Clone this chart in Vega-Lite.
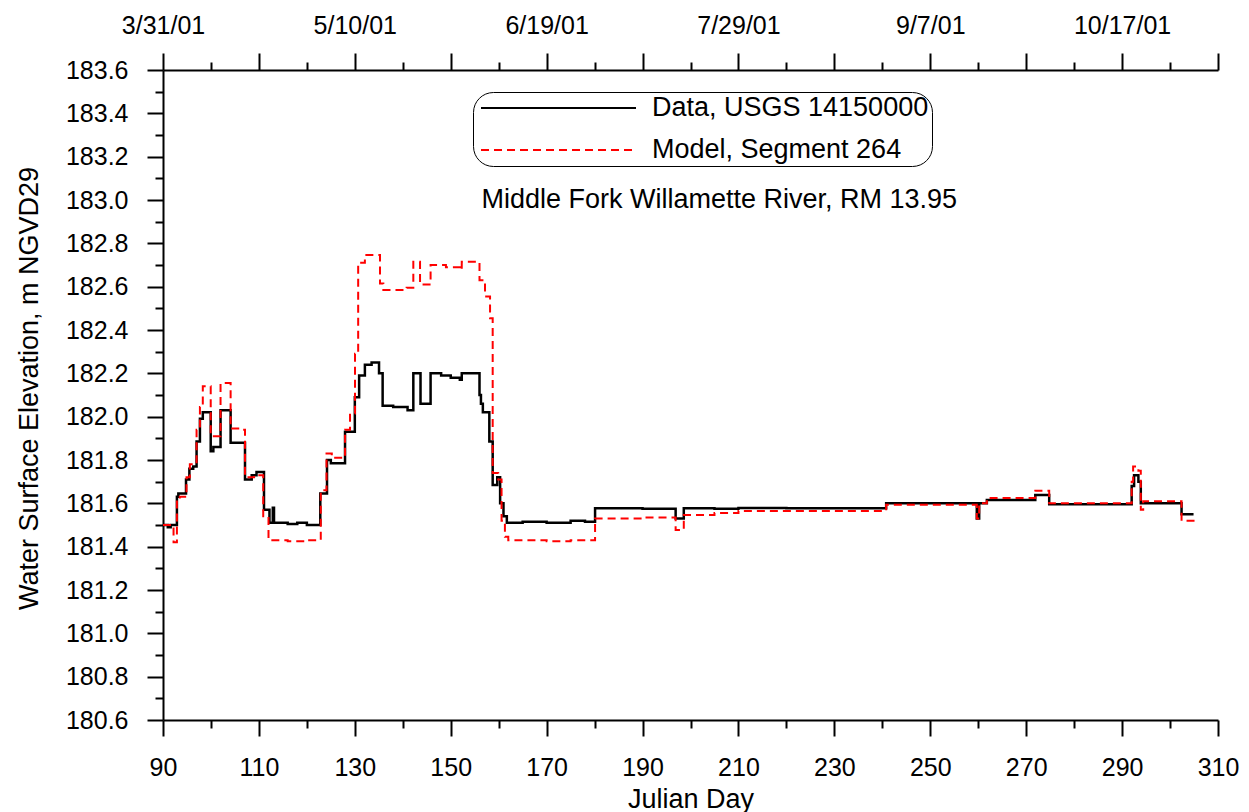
{
  "$schema": "https://vega.github.io/schema/vega-lite/v6.json",
  "width": 1055,
  "height": 650,
  "autosize": "none",
  "padding": {"left": 163, "top": 70, "right": 31, "bottom": 92},
  "background": "white",
  "config": {
    "view": {"stroke": null},
    "font": "Liberation Sans",
    "axis": {"grid": false, "domainColor": "black", "domainWidth": 2, "tickColor": "black", "tickWidth": 2, "labelColor": "black", "titleColor": "black", "labelFont": "Liberation Sans", "titleFont": "Liberation Sans", "titleFontWeight": "normal", "labelFontSize": 25, "titleFontSize": 27, "labelFlush": false, "labelOverlap": false}
  },
  "datasets": {
    "obs": [
      {"d": 90.0, "e": 181.50, "s": "Data, USGS 14150000"},
      {"d": 91.0, "e": 181.49, "s": "Data, USGS 14150000"},
      {"d": 91.6, "e": 181.50, "s": "Data, USGS 14150000"},
      {"d": 92.9, "e": 181.63, "s": "Data, USGS 14150000"},
      {"d": 93.2, "e": 181.645, "s": "Data, USGS 14150000"},
      {"d": 94.8, "e": 181.71, "s": "Data, USGS 14150000"},
      {"d": 95.5, "e": 181.76, "s": "Data, USGS 14150000"},
      {"d": 96.3, "e": 181.77, "s": "Data, USGS 14150000"},
      {"d": 97.0, "e": 181.885, "s": "Data, USGS 14150000"},
      {"d": 97.7, "e": 181.99, "s": "Data, USGS 14150000"},
      {"d": 98.3, "e": 182.02, "s": "Data, USGS 14150000"},
      {"d": 99.95, "e": 181.84, "s": "Data, USGS 14150000"},
      {"d": 100.5, "e": 181.86, "s": "Data, USGS 14150000"},
      {"d": 102.0, "e": 182.03, "s": "Data, USGS 14150000"},
      {"d": 104.1, "e": 181.88, "s": "Data, USGS 14150000"},
      {"d": 107.1, "e": 181.71, "s": "Data, USGS 14150000"},
      {"d": 108.5, "e": 181.73, "s": "Data, USGS 14150000"},
      {"d": 109.5, "e": 181.745, "s": "Data, USGS 14150000"},
      {"d": 111.06, "e": 181.57, "s": "Data, USGS 14150000"},
      {"d": 112.2, "e": 181.51, "s": "Data, USGS 14150000"},
      {"d": 112.9, "e": 181.58, "s": "Data, USGS 14150000"},
      {"d": 113.15, "e": 181.51, "s": "Data, USGS 14150000"},
      {"d": 116.0, "e": 181.505, "s": "Data, USGS 14150000"},
      {"d": 118.0, "e": 181.51, "s": "Data, USGS 14150000"},
      {"d": 120.0, "e": 181.50, "s": "Data, USGS 14150000"},
      {"d": 122.8, "e": 181.645, "s": "Data, USGS 14150000"},
      {"d": 124.2, "e": 181.80, "s": "Data, USGS 14150000"},
      {"d": 125.0, "e": 181.785, "s": "Data, USGS 14150000"},
      {"d": 127.96, "e": 181.93, "s": "Data, USGS 14150000"},
      {"d": 130.0, "e": 182.09, "s": "Data, USGS 14150000"},
      {"d": 130.9, "e": 182.19, "s": "Data, USGS 14150000"},
      {"d": 132.1, "e": 182.24, "s": "Data, USGS 14150000"},
      {"d": 133.5, "e": 182.25, "s": "Data, USGS 14150000"},
      {"d": 135.05, "e": 182.20, "s": "Data, USGS 14150000"},
      {"d": 135.8, "e": 182.05, "s": "Data, USGS 14150000"},
      {"d": 138.0, "e": 182.045, "s": "Data, USGS 14150000"},
      {"d": 141.0, "e": 182.03, "s": "Data, USGS 14150000"},
      {"d": 142.2, "e": 182.20, "s": "Data, USGS 14150000"},
      {"d": 143.7, "e": 182.06, "s": "Data, USGS 14150000"},
      {"d": 145.8, "e": 182.20, "s": "Data, USGS 14150000"},
      {"d": 148.0, "e": 182.19, "s": "Data, USGS 14150000"},
      {"d": 150.0, "e": 182.18, "s": "Data, USGS 14150000"},
      {"d": 151.9, "e": 182.17, "s": "Data, USGS 14150000"},
      {"d": 152.3, "e": 182.20, "s": "Data, USGS 14150000"},
      {"d": 156.0, "e": 182.10, "s": "Data, USGS 14150000"},
      {"d": 156.3, "e": 182.06, "s": "Data, USGS 14150000"},
      {"d": 156.7, "e": 182.02, "s": "Data, USGS 14150000"},
      {"d": 158.05, "e": 181.885, "s": "Data, USGS 14150000"},
      {"d": 158.75, "e": 181.685, "s": "Data, USGS 14150000"},
      {"d": 159.7, "e": 181.72, "s": "Data, USGS 14150000"},
      {"d": 160.3, "e": 181.60, "s": "Data, USGS 14150000"},
      {"d": 161.0, "e": 181.54, "s": "Data, USGS 14150000"},
      {"d": 161.7, "e": 181.51, "s": "Data, USGS 14150000"},
      {"d": 165.0, "e": 181.515, "s": "Data, USGS 14150000"},
      {"d": 170.0, "e": 181.51, "s": "Data, USGS 14150000"},
      {"d": 175.0, "e": 181.52, "s": "Data, USGS 14150000"},
      {"d": 178.0, "e": 181.515, "s": "Data, USGS 14150000"},
      {"d": 180.1, "e": 181.577, "s": "Data, USGS 14150000"},
      {"d": 190.0, "e": 181.575, "s": "Data, USGS 14150000"},
      {"d": 196.9, "e": 181.53, "s": "Data, USGS 14150000"},
      {"d": 198.6, "e": 181.577, "s": "Data, USGS 14150000"},
      {"d": 205.0, "e": 181.575, "s": "Data, USGS 14150000"},
      {"d": 210.0, "e": 181.578, "s": "Data, USGS 14150000"},
      {"d": 220.0, "e": 181.577, "s": "Data, USGS 14150000"},
      {"d": 240.8, "e": 181.60, "s": "Data, USGS 14150000"},
      {"d": 259.7, "e": 181.53, "s": "Data, USGS 14150000"},
      {"d": 260.2, "e": 181.60, "s": "Data, USGS 14150000"},
      {"d": 261.8, "e": 181.615, "s": "Data, USGS 14150000"},
      {"d": 271.9, "e": 181.638, "s": "Data, USGS 14150000"},
      {"d": 274.8, "e": 181.596, "s": "Data, USGS 14150000"},
      {"d": 292.0, "e": 181.68, "s": "Data, USGS 14150000"},
      {"d": 292.5, "e": 181.73, "s": "Data, USGS 14150000"},
      {"d": 293.4, "e": 181.70, "s": "Data, USGS 14150000"},
      {"d": 293.9, "e": 181.60, "s": "Data, USGS 14150000"},
      {"d": 302.4, "e": 181.55, "s": "Data, USGS 14150000"},
      {"d": 304.9, "e": 181.55, "s": "Data, USGS 14150000"}
    ],
    "mod": [
      {"d": 90.0, "e": 181.50, "s": "Model, Segment 264"},
      {"d": 92.2, "e": 181.42, "s": "Model, Segment 264"},
      {"d": 92.9, "e": 181.62, "s": "Model, Segment 264"},
      {"d": 93.5, "e": 181.63, "s": "Model, Segment 264"},
      {"d": 94.9, "e": 181.72, "s": "Model, Segment 264"},
      {"d": 95.6, "e": 181.78, "s": "Model, Segment 264"},
      {"d": 97.0, "e": 181.94, "s": "Model, Segment 264"},
      {"d": 97.7, "e": 182.045, "s": "Model, Segment 264"},
      {"d": 98.3, "e": 182.14, "s": "Model, Segment 264"},
      {"d": 99.95, "e": 181.91, "s": "Model, Segment 264"},
      {"d": 102.0, "e": 182.155, "s": "Model, Segment 264"},
      {"d": 104.1, "e": 181.945, "s": "Model, Segment 264"},
      {"d": 106.0, "e": 181.94, "s": "Model, Segment 264"},
      {"d": 107.1, "e": 181.72, "s": "Model, Segment 264"},
      {"d": 109.0, "e": 181.73, "s": "Model, Segment 264"},
      {"d": 110.9, "e": 181.54, "s": "Model, Segment 264"},
      {"d": 112.0, "e": 181.43, "s": "Model, Segment 264"},
      {"d": 116.0, "e": 181.425, "s": "Model, Segment 264"},
      {"d": 120.0, "e": 181.43, "s": "Model, Segment 264"},
      {"d": 122.9, "e": 181.66, "s": "Model, Segment 264"},
      {"d": 124.1, "e": 181.83, "s": "Model, Segment 264"},
      {"d": 125.2, "e": 181.81, "s": "Model, Segment 264"},
      {"d": 127.96, "e": 181.94, "s": "Model, Segment 264"},
      {"d": 129.0, "e": 182.015, "s": "Model, Segment 264"},
      {"d": 130.04, "e": 182.29, "s": "Model, Segment 264"},
      {"d": 130.7, "e": 182.71, "s": "Model, Segment 264"},
      {"d": 132.1, "e": 182.746, "s": "Model, Segment 264"},
      {"d": 135.25, "e": 182.615, "s": "Model, Segment 264"},
      {"d": 135.95, "e": 182.585, "s": "Model, Segment 264"},
      {"d": 140.8, "e": 182.595, "s": "Model, Segment 264"},
      {"d": 142.2, "e": 182.715, "s": "Model, Segment 264"},
      {"d": 143.6, "e": 182.61, "s": "Model, Segment 264"},
      {"d": 145.8, "e": 182.70, "s": "Model, Segment 264"},
      {"d": 149.0, "e": 182.69, "s": "Model, Segment 264"},
      {"d": 151.9, "e": 182.677, "s": "Model, Segment 264"},
      {"d": 152.3, "e": 182.715, "s": "Model, Segment 264"},
      {"d": 156.0, "e": 182.63, "s": "Model, Segment 264"},
      {"d": 157.15, "e": 182.555, "s": "Model, Segment 264"},
      {"d": 158.2, "e": 182.454, "s": "Model, Segment 264"},
      {"d": 158.75, "e": 181.74, "s": "Model, Segment 264"},
      {"d": 159.9, "e": 181.71, "s": "Model, Segment 264"},
      {"d": 160.6, "e": 181.52, "s": "Model, Segment 264"},
      {"d": 161.3, "e": 181.446, "s": "Model, Segment 264"},
      {"d": 162.0, "e": 181.43, "s": "Model, Segment 264"},
      {"d": 170.0, "e": 181.425, "s": "Model, Segment 264"},
      {"d": 175.0, "e": 181.43, "s": "Model, Segment 264"},
      {"d": 180.1, "e": 181.53, "s": "Model, Segment 264"},
      {"d": 190.0, "e": 181.535, "s": "Model, Segment 264"},
      {"d": 196.9, "e": 181.477, "s": "Model, Segment 264"},
      {"d": 198.6, "e": 181.546, "s": "Model, Segment 264"},
      {"d": 205.0, "e": 181.555, "s": "Model, Segment 264"},
      {"d": 210.0, "e": 181.565, "s": "Model, Segment 264"},
      {"d": 230.0, "e": 181.565, "s": "Model, Segment 264"},
      {"d": 240.8, "e": 181.593, "s": "Model, Segment 264"},
      {"d": 259.7, "e": 181.53, "s": "Model, Segment 264"},
      {"d": 260.2, "e": 181.60, "s": "Model, Segment 264"},
      {"d": 261.8, "e": 181.625, "s": "Model, Segment 264"},
      {"d": 271.9, "e": 181.658, "s": "Model, Segment 264"},
      {"d": 274.8, "e": 181.60, "s": "Model, Segment 264"},
      {"d": 292.0, "e": 181.70, "s": "Model, Segment 264"},
      {"d": 292.3, "e": 181.77, "s": "Model, Segment 264"},
      {"d": 293.4, "e": 181.75, "s": "Model, Segment 264"},
      {"d": 293.9, "e": 181.57, "s": "Model, Segment 264"},
      {"d": 294.4, "e": 181.61, "s": "Model, Segment 264"},
      {"d": 302.4, "e": 181.52, "s": "Model, Segment 264"},
      {"d": 305.2, "e": 181.51, "s": "Model, Segment 264"}
    ],
    "note": [{"t": "Middle Fork Willamette River, RM 13.95"}]
  },
  "layer": [
    {
      "data": {"name": "obs"},
      "mark": {"type": "line", "interpolate": "step-after", "strokeWidth": 2.5},
      "encoding": {
        "x": {"field": "d", "type": "quantitative", "scale": {"domain": [90, 310], "nice": false, "zero": false},
          "axis": {"orient": "bottom", "values": [90, 110, 130, 150, 170, 190, 210, 230, 250, 270, 290, 310], "tickSize": 16, "labelPadding": 19, "title": "Julian Day", "titleX": 527.5, "titleY": 87, "titleBaseline": "alphabetic"}},
        "y": {"field": "e", "type": "quantitative", "scale": {"domain": [180.6, 183.6], "nice": false, "zero": false},
          "axis": {"orient": "left", "values": [180.6, 180.8, 181.0, 181.2, 181.4, 181.6, 181.8, 182.0, 182.2, 182.4, 182.6, 182.8, 183.0, 183.2, 183.4, 183.6], "format": ".1f", "tickSize": 16, "labelPadding": 19, "title": "Water Surface Elevation, m NGVD29", "titleX": -126, "titleY": 318, "titleAngle": -90, "titleBaseline": "alphabetic"}},
        "color": {"field": "s", "type": "nominal", "scale": {"domain": ["Data, USGS 14150000", "Model, Segment 264"], "range": ["#000000", "#ff0000"]},
          "legend": {"title": null, "orient": "none", "legendX": 310, "legendY": 22, "symbolType": "stroke", "symbolSize": 24025, "symbolStrokeWidth": 2, "labelFontSize": 27, "labelFont": "Liberation Sans", "labelColor": "black", "labelOffset": 15, "labelLimit": 500, "clipHeight": 26, "rowPadding": 15, "padding": 3, "symbolOffset": 4, "strokeColor": "black", "cornerRadius": 20}},
        "strokeDash": {"field": "s", "type": "nominal", "scale": {"domain": ["Data, USGS 14150000", "Model, Segment 264"], "range": [[1, 0], [8, 5]]},
          "legend": {"title": null, "orient": "none", "legendX": 310, "legendY": 22, "symbolType": "stroke", "symbolSize": 24025, "symbolStrokeWidth": 2, "labelFontSize": 27, "labelFont": "Liberation Sans", "labelColor": "black", "labelOffset": 15, "labelLimit": 500, "clipHeight": 26, "rowPadding": 15, "padding": 3, "symbolOffset": 4, "strokeColor": "black", "cornerRadius": 20}}
      }
    },
    {
      "data": {"name": "mod"},
      "mark": {"type": "line", "interpolate": "step-after", "strokeWidth": 2},
      "encoding": {
        "x": {"field": "d", "type": "quantitative", "scale": {"domain": [90, 310], "nice": false, "zero": false},
          "axis": {"orient": "bottom", "values": [100, 120, 140, 160, 180, 200, 220, 240, 260, 280, 300], "tickSize": 8, "labels": false, "domain": false, "title": null}},
        "y": {"field": "e", "type": "quantitative", "scale": {"domain": [180.6, 183.6], "nice": false, "zero": false},
          "axis": {"orient": "left", "values": [180.7, 180.9, 181.1, 181.3, 181.5, 181.7, 181.9, 182.1, 182.3, 182.5, 182.7, 182.9, 183.1, 183.3, 183.5], "tickSize": 8, "labels": false, "domain": false, "title": null}},
        "color": {"field": "s", "type": "nominal", "scale": {"domain": ["Data, USGS 14150000", "Model, Segment 264"], "range": ["#000000", "#ff0000"]},
          "legend": {"title": null, "orient": "none", "legendX": 310, "legendY": 22, "symbolType": "stroke", "symbolSize": 24025, "symbolStrokeWidth": 2, "labelFontSize": 27, "labelFont": "Liberation Sans", "labelColor": "black", "labelOffset": 15, "labelLimit": 500, "clipHeight": 26, "rowPadding": 15, "padding": 3, "symbolOffset": 4, "strokeColor": "black", "cornerRadius": 20}},
        "strokeDash": {"field": "s", "type": "nominal", "scale": {"domain": ["Data, USGS 14150000", "Model, Segment 264"], "range": [[1, 0], [8, 5]]},
          "legend": {"title": null, "orient": "none", "legendX": 310, "legendY": 22, "symbolType": "stroke", "symbolSize": 24025, "symbolStrokeWidth": 2, "labelFontSize": 27, "labelFont": "Liberation Sans", "labelColor": "black", "labelOffset": 15, "labelLimit": 500, "clipHeight": 26, "rowPadding": 15, "padding": 3, "symbolOffset": 4, "strokeColor": "black", "cornerRadius": 20}}
      }
    },
    {
      "data": {"name": "note"},
      "mark": {"type": "text", "fontSize": 27, "font": "Liberation Sans", "color": "black", "align": "center", "baseline": "middle"},
      "encoding": {
        "x": {"datum": 206, "type": "quantitative", "scale": {"domain": [90, 310], "nice": false, "zero": false},
          "axis": {"orient": "top", "values": [90, 110, 130, 150, 170, 190, 210, 230, 250, 270, 290, 310], "tickSize": 17, "labelPadding": 15, "title": null,
            "labelExpr": "datum.value == 90 ? '3/31/01' : datum.value == 130 ? '5/10/01' : datum.value == 170 ? '6/19/01' : datum.value == 210 ? '7/29/01' : datum.value == 250 ? '9/7/01' : datum.value == 290 ? '10/17/01' : ''"}},
        "y": {"datum": 183.0, "type": "quantitative", "scale": {"domain": [180.6, 183.6], "nice": false, "zero": false}, "axis": null},
        "text": {"field": "t"}
      }
    },
    {
      "data": {"name": "note"},
      "mark": {"type": "text", "fontSize": 1, "opacity": 0},
      "encoding": {
        "x": {"datum": 206, "type": "quantitative", "scale": {"domain": [90, 310], "nice": false, "zero": false},
          "axis": {"orient": "top", "values": [100, 120, 140, 160, 180, 200, 220, 240, 260, 280, 300], "tickSize": 8, "labels": false, "domain": false, "title": null}},
        "y": {"datum": 183.0, "type": "quantitative", "scale": {"domain": [180.6, 183.6], "nice": false, "zero": false}, "axis": null},
        "text": {"value": " "}
      }
    }
  ],
  "resolve": {"axis": {"x": "independent", "y": "independent"}}
}
